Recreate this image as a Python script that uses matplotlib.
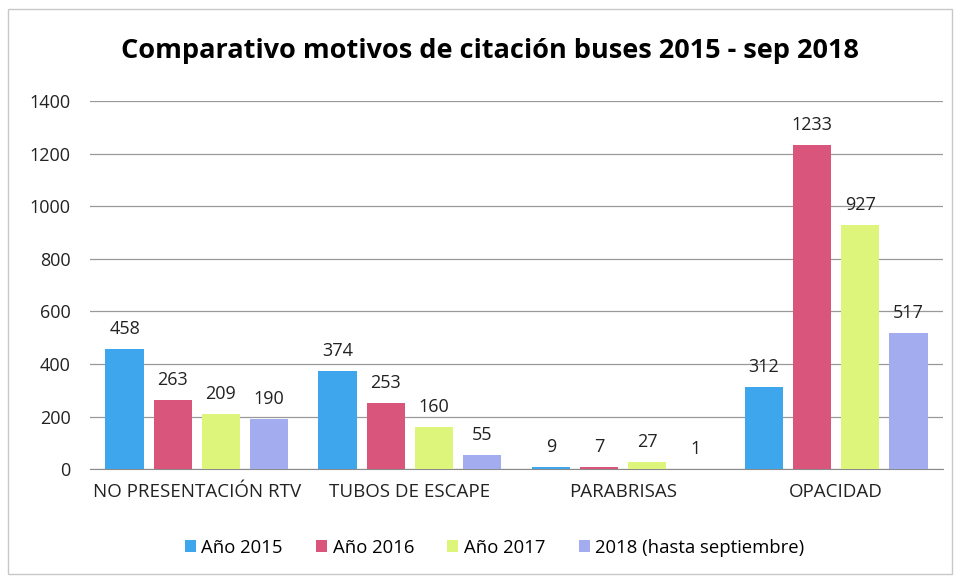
import numpy as np
import matplotlib.pyplot as plt

plt.rcParams['font.family'] = ['Liberation Sans Narrow', 'Open Sans', 'DejaVu Sans']

# Data
categories = ["NO PRESENTACIÓN RTV", "TUBOS DE ESCAPE", "PARABRISAS", "OPACIDAD"]
series_names = ["Año 2015", "Año 2016", "Año 2017", "2018 (hasta septiembre)"]
v2015 = [458, 374, 9, 312]
v2016 = [263, 253, 7, 1233]
v2017 = [209, 160, 27, 927]
v2018 = [190, 55, 1, 517]
colors = ["#3ea6ec", "#d9557c", "#dcf57a", "#a3acee"]

values = [v2015, v2016, v2017, v2018]

fig = plt.figure(figsize=(9.6, 5.8), dpi=100)
ax = fig.add_axes([0.094, 0.191, 0.888, 0.635])

x = np.arange(len(categories))
width = 0.18
step = 0.226
offsets = (np.arange(4) - 1.5) * step

for vals, name, col, off in zip(values, series_names, colors, offsets):
    bars = ax.bar(x + off, vals, width, color=col, label=name, zorder=3)
    for b, v in zip(bars, vals):
        ax.annotate(str(v), (b.get_x() + b.get_width() / 2, v),
                    xytext=(0, 8), textcoords="offset points",
                    ha="center", va="bottom", fontsize=13, color="#222222",
                    zorder=2)

ax.set_xlim(-0.5, 3.5)
ax.set_ylim(0, 1400)
ax.set_yticks(range(0, 1401, 200))
ax.set_xticks(x)
ax.set_xticklabels(categories, fontsize=13.5)
ax.tick_params(axis="both", length=0, colors="#222222")
ax.tick_params(axis="y", pad=14, labelsize=13)
ax.tick_params(axis="x", pad=10)
ax.grid(axis="y", color="#999999", linewidth=0.9, zorder=0)
for s in ["top", "right", "left"]:
    ax.spines[s].set_visible(False)
ax.spines["bottom"].set_color("#8a8a8a")

fig.suptitle("Comparativo motivos de citación buses 2015 - sep 2018",
             fontsize=19.5, fontweight="bold", x=0.51, y=0.935)

fig.legend(loc="center", bbox_to_anchor=(0.515, 0.056), ncol=4, frameon=False,
           fontsize=13.3, handlelength=0.6, handleheight=0.6, handletextpad=0.3,
           columnspacing=1.8)

# outer border of the chart
fig.patches.append(plt.Rectangle((0.008, 0.01), 0.984, 0.975, transform=fig.transFigure,
                                 fill=False, edgecolor="#c8c8c8", linewidth=1))

fig.savefig("out.png", dpi=100)
